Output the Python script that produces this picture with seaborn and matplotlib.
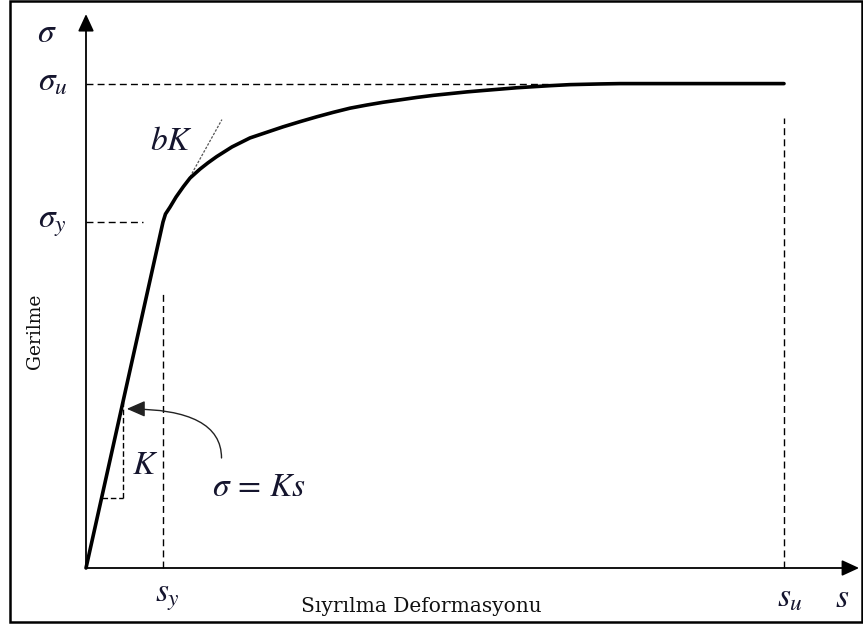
import matplotlib
matplotlib.use("Agg")
import matplotlib.pyplot as plt
import numpy as np
import pandas as pd
import seaborn as sns
from matplotlib.patches import Rectangle

# Bond stress - slip relation (slip normalised by s_y, stress by sigma_y)
slip = [0.0, 1.000, 1.032, 1.091, 1.169, 1.264, 1.351, 1.481, 1.584, 1.697,
        1.896, 2.130, 2.558, 2.779, 2.996, 3.212, 3.429, 3.645, 3.857, 4.078,
        4.295, 4.510, 4.727, 4.944, 5.156, 5.377, 5.594, 5.809, 6.026, 6.286,
        6.675, 6.935, 9.065]
stress = [0.0, 1.000, 1.023, 1.043, 1.072, 1.102, 1.127, 1.153, 1.171, 1.189,
          1.217, 1.243, 1.275, 1.290, 1.304, 1.317, 1.329, 1.338, 1.346, 1.353,
          1.360, 1.366, 1.371, 1.376, 1.380, 1.384, 1.388, 1.391, 1.394, 1.397,
          1.399, 1.400, 1.400]

S_Y, S_U = 1.0, 9.065          # yield slip, ultimate slip
SIG_Y, SIG_U = 1.0, 1.400      # yield stress, ultimate stress
K = SIG_Y / S_Y                # initial stiffness
B = 0.40                       # post-yield stiffness ratio
S_T, SIG_T = 1.325, 1.120      # point where the bK tangent touches the curve

x_label = "Sıyrılma Deformasyonu"
y_label = "Gerilme"

df = pd.DataFrame({"s": slip, "sigma": stress})

sns.set_style("white")
plt.rcParams["mathtext.fontset"] = "stix"
plt.rcParams["font.family"] = ["DejaVu Serif", "DejaVu Sans"]

W, H = 863, 630
fig = plt.figure(figsize=(W / 100, H / 100), dpi=100)
ax = fig.add_axes([0, 0, 1, 1])
XLIM = (-86 / 77, (W - 86) / 77)
YLIM = (-(H - 568) / 346, 568 / 346)

txt_c = "#15152e"

# axes with arrow heads
arrow_kw = dict(arrowstyle="-|>,head_length=0.65,head_width=0.3", lw=1.3,
                color="black", mutation_scale=16, shrinkA=0, shrinkB=0)
ax.annotate("", xy=(0, 1.601), xytext=(0, 0), arrowprops=arrow_kw)
ax.annotate("", xy=(10.04, 0), xytext=(0, 0), arrowprops=arrow_kw)

# dashed guide lines
guide = dict(color="black", lw=1.0, ls=(0, (5, 3)))
ax.plot([0, 6.0], [SIG_U, SIG_U], **guide)
ax.plot([0, 0.74], [SIG_Y, SIG_Y], **guide)
ax.plot([S_Y, S_Y], [0, 0.80], **guide)
ax.plot([S_U, S_U], [0, 1.30], **guide)

# slope triangle for K
s_k, sig_k = 0.48, 0.202
ax.plot([s_k, s_k], [sig_k, K * s_k], color="black", lw=1.0, ls=(0, (4, 2)))
ax.plot([sig_k / K, s_k], [sig_k, sig_k], color="black", lw=1.0, ls=(0, (4, 2)))

# tangent with slope bK
s_end = S_T + 0.44
ax.plot([S_T, s_end], [SIG_T, SIG_T + B * K * (s_end - S_T)],
        color="#555555", lw=0.9, ls=(0, (2, 1.2)))

# the stress-slip curve
sns.lineplot(data=df, x="s", y="sigma", ax=ax, color="black", lw=2.6,
             sort=False, estimator=None)
ax.set_xlim(*XLIM)
ax.set_ylim(*YLIM)
ax.axis("off")

# curved pointer for sigma = K s
ax.annotate("", xy=(0.53, 0.46), xytext=(1.76, 0.318),
            arrowprops=dict(arrowstyle="-|>,head_length=0.8,head_width=0.35",
                            lw=1.0, color="#222222", mutation_scale=14,
                            shrinkA=0, shrinkB=0,
                            connectionstyle="angle3,angleA=90,angleB=0"))

fs = 24
ax.text(-0.506, 1.546, r"$\sigma$", fontsize=fs, color=txt_c, ha="center", va="center")
ax.text(-0.62, SIG_U - 0.02, r"$\sigma_u$", fontsize=fs, color=txt_c, ha="left", va="baseline")
ax.text(-0.62, SIG_Y - 0.015, r"$\sigma_y$", fontsize=fs, color=txt_c, ha="left", va="baseline")
ax.text(1.11, 1.234, r"$bK$", fontsize=fs, color=txt_c, ha="center", va="center")
ax.text(0.766, 0.298, r"$K$", fontsize=fs, color=txt_c, ha="center", va="center")
ax.text(2.24, 0.234, r"$\sigma\,=\,Ks$", fontsize=fs, color=txt_c, ha="center", va="center")
ax.text(S_Y + 0.06, -0.085, r"$s_y$", fontsize=fs, color=txt_c, ha="center", va="center")
ax.text(S_U + 0.08, -0.085, r"$s_u$", fontsize=fs, color=txt_c, ha="center", va="center")
ax.text(9.82, -0.088, r"$s$", fontsize=fs, color=txt_c, ha="center", va="center")

ax.text(4.35, -0.11, x_label, fontsize=14.5, color="#111111", ha="center", va="center")
ax.text(-0.66, 0.685, y_label, fontsize=13.5, color="#111111", ha="center", va="center",
        rotation=90)

# frame around the figure
fig.patches.append(Rectangle((10 / W, (H - 622) / H), 852 / W, 621 / H,
                             transform=fig.transFigure, fill=False,
                             edgecolor="black", lw=1.8))

fig.savefig("out.png", dpi=100)
